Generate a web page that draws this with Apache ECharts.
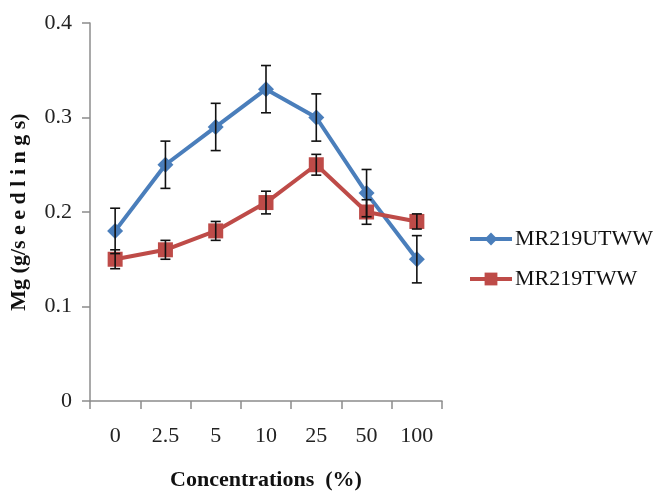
<!DOCTYPE html>
<html>
<head>
<meta charset="utf-8">
<script src="https://cdn.jsdelivr.net/npm/echarts@6/dist/echarts.min.js"></script>
<style>
  html, body { margin: 0; padding: 0; background: #fff; }
  #chart { width: 672px; height: 496px; }
</style>
</head>
<body>
<div id="chart"></div>
<script>
// data
var categories = ['0', '2.5', '5', '10', '25', '50', '100'];
var utwwValues = [0.18, 0.25, 0.29, 0.33, 0.30, 0.22, 0.15];
var utwwErrors = [0.024, 0.025, 0.025, 0.025, 0.025, 0.025, 0.025];
var twwValues = [0.15, 0.16, 0.18, 0.21, 0.25, 0.20, 0.19];
var twwErrors = [0.01, 0.01, 0.01, 0.012, 0.011, 0.013, 0.008];
var yTicks = [0, 0.1, 0.2, 0.3, 0.4];

var blue = '#4A7EBB';
var red = '#BE4B48';
var serif = '"Liberation Serif", "DejaVu Serif", serif';

function errData(vals, errs) {
    return vals.map(function (v, i) { return [i, v - errs[i], v + errs[i]]; });
}

function renderErr(params, api) {
    var x = api.value(0);
    var lo = api.coord([x, api.value(1)]);
    var hi = api.coord([x, api.value(2)]);
    var w = 5;
    var style = { stroke: '#111', lineWidth: 1.6 };
    return {
        type: 'group',
        children: [
            { type: 'line', shape: { x1: lo[0], y1: lo[1], x2: hi[0], y2: hi[1] }, style: style },
            { type: 'line', shape: { x1: hi[0] - w, y1: hi[1], x2: hi[0] + w, y2: hi[1] }, style: style },
            { type: 'line', shape: { x1: lo[0] - w, y1: lo[1], x2: lo[0] + w, y2: lo[1] }, style: style }
        ]
    };
}

var chart = echarts.init(document.getElementById('chart'));
chart.setOption({
    backgroundColor: '#fff',
    animation: false,
    grid: { left: 89, right: 230, top: 23, bottom: 94 },
    legend: {
        orient: 'vertical',
        left: 463,
        top: 223,
        itemGap: 18,
        itemWidth: 42,
        itemHeight: 16,
        data: ['MR219UTWW', 'MR219TWW'],
        lineStyle: { width: 4 },
        textStyle: { fontFamily: serif, fontSize: 22, color: '#111', padding: [0, 0, 0, -2] }
    },
    xAxis: {
        type: 'category',
        data: categories,
        boundaryGap: true,
        name: 'Concentrations  (%)',
        nameLocation: 'middle',
        nameGap: 68,
        nameTextStyle: { fontFamily: serif, fontSize: 22, fontWeight: 'bold', color: '#111' },
        axisLine: { lineStyle: { color: '#8c8c8c', width: 1.5 } },
        axisTick: { show: true, length: 8, lineStyle: { color: '#8c8c8c', width: 1.5 } },
        axisLabel: { fontFamily: serif, fontSize: 22, color: '#222', margin: 24 }
    },
    yAxis: {
        type: 'value',
        min: 0,
        max: 0.4,
        interval: 0.1,
        name: 'Mg (g/s e e d l i n g s)',
        nameLocation: 'middle',
        nameRotate: 90,
        nameGap: 60,
        nameTextStyle: { fontFamily: serif, fontSize: 22, fontWeight: 'bold', color: '#111' },
        axisLine: { show: true, lineStyle: { color: '#8c8c8c', width: 1.5 } },
        axisTick: { show: true, length: 8, lineStyle: { color: '#8c8c8c', width: 1.5 } },
        splitLine: { show: false },
        axisLabel: {
            fontFamily: serif, fontSize: 22, color: '#222', margin: 18,
            formatter: function (v) {
                var t = yTicks.filter(function (k) { return Math.abs(k - v) < 1e-9; });
                return t.length ? String(t[0]) : '';
            }
        }
    },
    series: [
        {
            name: 'MR219UTWW',
            type: 'line',
            data: utwwValues,
            symbol: 'diamond',
            symbolSize: 16,
            color: blue,
            lineStyle: { width: 4, color: blue },
            itemStyle: { color: blue },
            z: 2
        },
        {
            name: 'MR219TWW',
            type: 'line',
            data: twwValues,
            symbol: 'rect',
            symbolSize: 15,
            color: red,
            lineStyle: { width: 4, color: red },
            itemStyle: { color: red },
            z: 2
        },
        {
            type: 'custom',
            data: errData(utwwValues, utwwErrors),
            renderItem: renderErr,
            encode: { x: 0, y: [1, 2] },
            z: 5
        },
        {
            type: 'custom',
            data: errData(twwValues, twwErrors),
            renderItem: renderErr,
            encode: { x: 0, y: [1, 2] },
            z: 5
        }
    ]
});
</script>
</body>
</html>
